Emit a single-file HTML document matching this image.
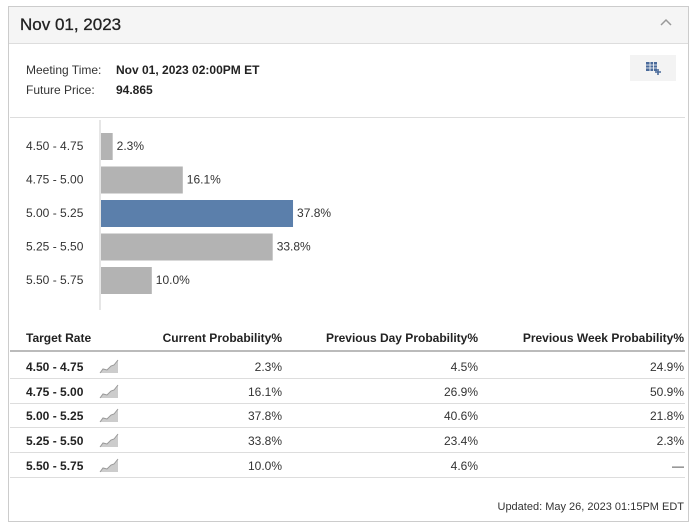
<!DOCTYPE html>
<html><head><meta charset="utf-8"><style>
body{margin:0;width:695px;height:527px;background:#fff;font-family:"Liberation Sans",sans-serif;position:relative;overflow:hidden}
.a{position:absolute;white-space:nowrap}
.r{text-align:right}
</style></head><body>
<div class="a" style="left:8px;top:6px;width:679px;height:514px;border:1px solid #ccc"></div>
<div class="a" style="left:9px;top:7px;width:679px;height:36px;background:#f5f5f5;border-bottom:1px solid #ddd"></div>
<div class="a" style="left:20px;top:15px;font-size:17px;color:#222;-webkit-text-stroke:0.3px #222">Nov 01, 2023</div>
<svg class="a" style="left:659px;top:17px" width="14" height="10"><path d="M2 8L7 3L12 8" stroke="#999" stroke-width="1.5" fill="none"/></svg>
<div class="a" style="left:26px;top:63px;font-size:12px;color:#333">Meeting Time:</div>
<div class="a" style="left:116px;top:63px;font-size:12px;color:#222;font-weight:bold">Nov 01, 2023 02:00PM ET</div>
<div class="a" style="left:26px;top:83px;font-size:12px;color:#333">Future Price:</div>
<div class="a" style="left:116px;top:83px;font-size:12px;color:#222;font-weight:bold">94.865</div>
<div class="a" style="left:630px;top:55px;width:46px;height:26px;background:#f3f3f3">
<svg width="46" height="26"><rect x="16" y="7" width="11" height="9" fill="#4a6a9a"/><path d="M16 10h11M16 13h11M20 7v9M23.5 7v9" stroke="#fff" stroke-width="0.8"/><path d="M28 14v6M25 17h6" stroke="#4a6a9a" stroke-width="1.6"/></svg></div>
<div class="a" style="left:10px;top:117px;width:675px;height:1px;background:#ddd"></div>
<svg class="a" id="chart" style="left:0;top:118px" width="695" height="200"></svg>
<div id="tbl"></div>
<div class="a r" style="right:11px;top:501px;font-size:11px;color:#333">Updated: May 26, 2023 01:15PM EDT</div>
<script>
const categories=["4.50 - 4.75","4.75 - 5.00","5.00 - 5.25","5.25 - 5.50","5.50 - 5.75"];
const current=[2.3,16.1,37.8,33.8,10.0];
const prevDay=["4.5%","26.9%","40.6%","23.4%","4.6%"];
const prevWeek=["24.9%","50.9%","21.8%","2.3%","—"];
const highlight=2;
const NS="http://www.w3.org/2000/svg";
const svg=document.getElementById('chart');
const x=v=>v*5.08, y=i=>15+i*33.5;
function mk(t,a){const e=document.createElementNS(NS,t);for(const k in a)e.setAttribute(k,a[k]);svg.appendChild(e);return e;}
const ax=mk('line',{x1:100,x2:100,y1:2,y2:192,stroke:'#ccc'});


categories.forEach((c,i)=>{
 const l=mk('text',{x:26,y:y(i)+17,'font-size':12,fill:'#333'});l.textContent=c;
 
 
 const b=mk('rect',{x:101,y:y(i),width:x(current[i]),height:27,fill:i===highlight?'#5b7fab':'#b3b3b3'});
 
 
 const v=mk('text',{x:101+x(current[i])+4,y:y(i)+17,'font-size':12,fill:'#333'});v.textContent=current[i].toFixed(1)+'%';
 
 
});
let h='<div class="a" style="left:10px;top:330px;width:675px;height:20px;border-bottom:2px solid #bbb;font-size:12px;font-weight:bold;color:#222">'+
'<span class="a" style="left:16px;top:1px">Target Rate</span><span class="a r" style="right:403px;top:1px">Current Probability%</span><span class="a r" style="right:207px;top:1px">Previous Day Probability%</span><span class="a r" style="right:1px;top:1px">Previous Week Probability%</span></div>';
categories.forEach((c,i)=>{
 const t=354+i*24.7;
 h+='<div class="a" style="left:10px;top:'+t+'px;width:675px;height:24px;border-bottom:1px solid #ddd;font-size:12px;color:#333">'+
 '<span class="a" style="left:16px;top:6px;font-weight:bold;color:#222">'+c+'</span>'+
 '<svg class="a" style="left:89px;top:4px" width="20" height="16"><path d="M1 15L4 11L8 12L12 8L15 7L19 2V15Z" fill="#ccc"/><path d="M1 15L4 11L8 12L12 8L15 7L19 2" stroke="#999" fill="none"/></svg>'+
 '<span class="a r" style="right:403px;top:6px">'+current[i].toFixed(1)+'%</span><span class="a r" style="right:207px;top:6px">'+prevDay[i]+'</span><span class="a r" style="right:1px;top:6px">'+prevWeek[i]+'</span></div>';
});
document.getElementById('tbl').innerHTML=h;
</script>
</body></html>
